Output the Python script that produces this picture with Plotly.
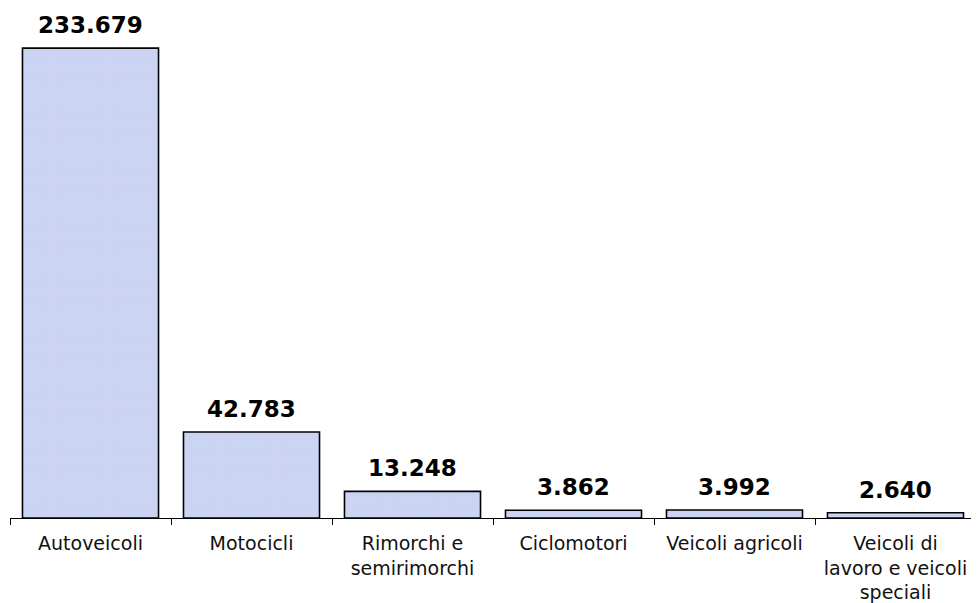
import plotly.graph_objects as go

categories = ["Autoveicoli", "Motocicli", "Rimorchi e<br>semirimorchi", "Ciclomotori",
              "Veicoli agricoli", "Veicoli di<br>lavoro e veicoli<br>speciali"]
values = [233679, 42783, 13248, 3862, 3992, 2640]
value_labels = ["233.679", "42.783", "13.248", "3.862", "3.992", "2.640"]

fig = go.Figure()
fig.add_trace(go.Bar(
    x=categories, y=values,
    marker=dict(
        color="#C9D5F4",
        line=dict(color="black", width=1.6),
        pattern=dict(shape=".", fgcolor="#DCCBEF", bgcolor="#C6D6F5", size=7, solidity=0.45),
    ),
    hoverinfo="skip",
))

for c, v, t in zip(categories, values, value_labels):
    fig.add_annotation(x=c, y=v, text="<b>%s</b>" % t, showarrow=False,
                       yanchor="bottom", yshift=8,
                       font=dict(family="DejaVu Sans", size=23, color="black"))

fig.update_layout(
    width=971, height=595,
    margin=dict(l=2, r=3, t=32, b=85),
    paper_bgcolor="white", plot_bgcolor="white",
    bargap=0.155,
    showlegend=False,
    xaxis=dict(
        type="category", range=[-0.5, 5.5], automargin=False,
        tickson="boundaries", ticks="outside", ticklen=6, tickcolor="black", tickwidth=1,
        showline=True, linecolor="black", linewidth=1,
        ticklabelstandoff=8,
        tickfont=dict(family="DejaVu Sans", size=19, color="#111111"),
        showgrid=False, zeroline=False,
    ),
    yaxis=dict(visible=False, range=[0, 237700], showgrid=False, zeroline=False,
               automargin=False),
)

fig.write_html("out.html")
